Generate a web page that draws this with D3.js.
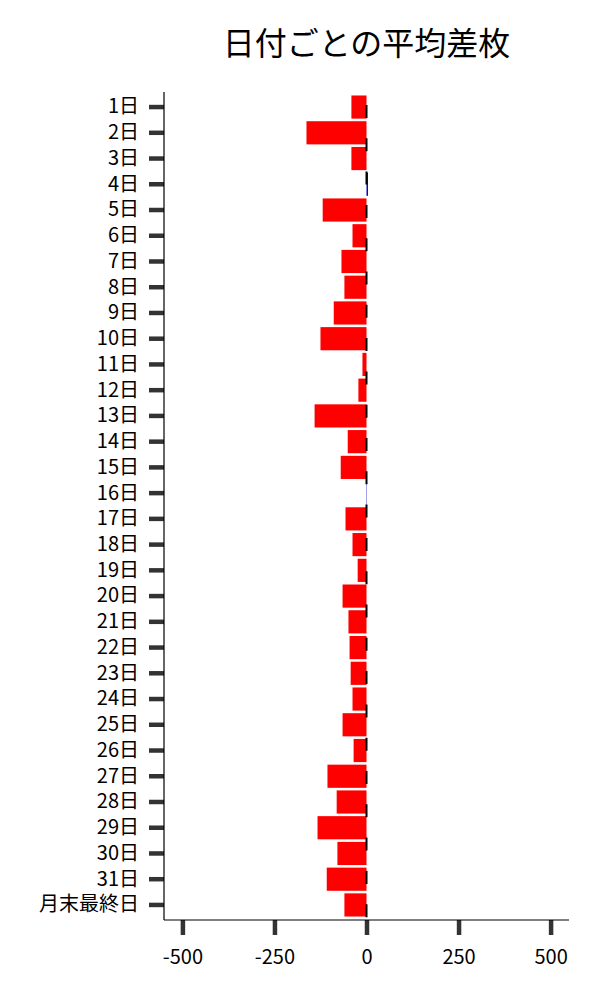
<!DOCTYPE html>
<html>
<head>
<meta charset="utf-8">
<script src="https://cdn.jsdelivr.net/npm/d3@7"></script>
<style>
  html, body { margin: 0; padding: 0; background: #fff; }
  svg { display: block; }
  text { font-family: "Noto Sans CJK JP", "Noto Sans", sans-serif; }
</style>
</head>
<body>
<script>
const title = "日付ごとの平均差枚";
const categories = ["1日","2日","3日","4日","5日","6日","7日","8日","9日","10日",
  "11日","12日","13日","14日","15日","16日","17日","18日","19日","20日",
  "21日","22日","23日","24日","25日","26日","27日","28日","29日","30日","31日","月末最終日"];
const values = [-41,-163,-41,4,-119,-38,-68,-60,-89,-125,
  -11,-22,-141,-51,-70,1,-57,-38,-24,-65,
  -49,-46,-43,-38,-65,-35,-106,-81,-133,-79,-108,-60];
const xTicks = [-500,-250,0,250,500];
const xDomain = [-550, 550];

const W = 600, H = 1000;
const margin = {top: 92, right: 31, bottom: 80, left: 164};
const svg = d3.select("body").append("svg").attr("width", W).attr("height", H);

const x = d3.scaleLinear().domain(xDomain).range([margin.left, W - margin.right]);
const y = d3.scaleBand().domain(categories).range([margin.top, H - margin.bottom]).paddingInner(0.1).paddingOuter(0.135);

svg.append("text")
  .attr("x", (margin.left + W - margin.right) / 2)
  .attr("y", 55)
  .attr("text-anchor", "middle")
  .attr("font-size", 32)
  .attr("fill", "#000")
  .text(title);

// bars
svg.append("g").selectAll("rect").data(values).join("rect")
  .attr("x", d => x(Math.min(0, d)))
  .attr("width", d => Math.abs(x(d) - x(0)))
  .attr("y", (d, i) => y(categories[i]))
  .attr("height", y.bandwidth())
  .attr("fill", d => d < 0 ? "#ff0000" : "#0000cc");

// zero dashed line
svg.append("line")
  .attr("x1", x(0)).attr("x2", x(0))
  .attr("y1", margin.top).attr("y2", H - margin.bottom)
  .attr("stroke", "#000")
  .attr("stroke-width", 2)
  .attr("stroke-dasharray", "13 20.3")
  .attr("stroke-dashoffset", 20.3);

// y axis
const yAxis = d3.axisLeft(y).tickSize(15).tickPadding(10);
const gy = svg.append("g").attr("transform", `translate(${margin.left},0)`).call(yAxis);
gy.select(".domain").remove();
gy.selectAll(".tick line").attr("stroke", "#333").attr("stroke-width", 4.5);
gy.selectAll(".tick text").attr("font-size", 20).attr("fill", "#000")
  .attr("font-family", "'Noto Sans CJK JP', sans-serif");

// x axis
const xAxis = d3.axisBottom(x).tickValues(xTicks).tickFormat(d => String(d)).tickSize(15).tickPadding(15);
const gx = svg.append("g").attr("transform", `translate(0,${H - margin.bottom})`).call(xAxis);
gx.select(".domain").remove();
gx.selectAll(".tick line").attr("stroke", "#333").attr("stroke-width", 4.5);
gx.selectAll(".tick text").attr("font-size", 20).attr("fill", "#000")
  .attr("font-family", "'Noto Sans CJK JP', sans-serif");

// spines
svg.append("line").attr("x1", margin.left).attr("x2", margin.left)
  .attr("y1", margin.top).attr("y2", H - margin.bottom)
  .attr("stroke", "#000").attr("stroke-width", 1.2);
svg.append("line").attr("x1", margin.left).attr("x2", W - margin.right)
  .attr("y1", H - margin.bottom).attr("y2", H - margin.bottom)
  .attr("stroke", "#000").attr("stroke-width", 1.2);
</script>
</body>
</html>
